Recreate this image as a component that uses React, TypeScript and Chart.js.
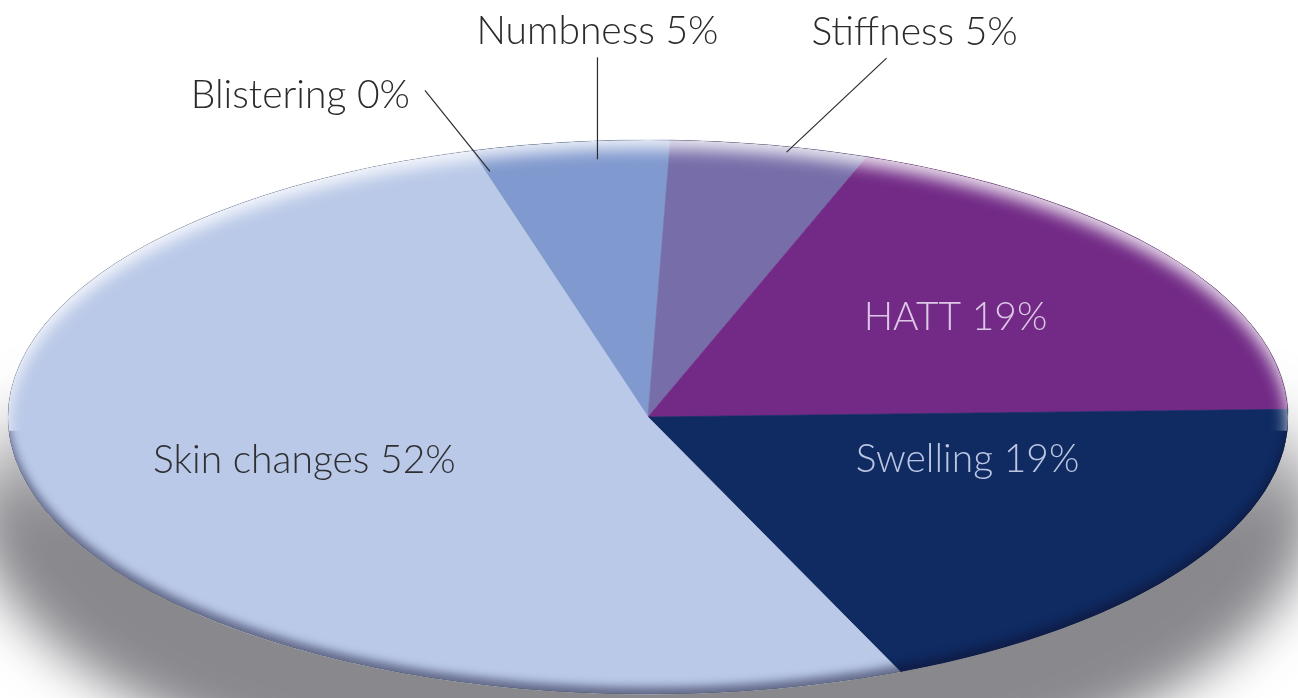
import React, { useEffect, useRef } from "react";
import { Chart, registerables } from "chart.js";

Chart.register(...registerables);

const categories = ["Blistering", "Numbness", "Stiffness", "HATT", "Swelling", "Skin changes"];
const values = [0, 5, 5, 19, 19, 52];
const sliceColors = ["#c9d4ee", "#8099ce", "#776ea9", "#722a86", "#0f2b62", "#bac9e8"];

const W = 1298;
const H = 698;
// ellipse geometry (visual perspective of the pie)
const ELL = { cx: 648, cy: 417, rx: 640, ry: 277 };
const SHADOW = { cx: 645, cy: 500, rx: 672, ry: 305, blur: 26, fadeTop: 380, fadeBottom: 520 };
const FONT = "300 39px Lato, 'Open Sans', sans-serif";
const TEXT_DARK = "#2b2b2e";

// label layout per category
const labelLayout: any[] = [
  { outside: true, frac: 0.93, ax: 6, ay: 2, lx: -65, ly: -81, tx: -15, ty: 5, align: "right" },
  { outside: true, frac: 0.93, ax: 22, ay: -2, lx: 0, ly: -102, tx: 0, ty: -26, align: "center" },
  { outside: true, frac: 0.93, ax: 25, ay: -12, lx: 100, ly: -94, tx: 28, ty: -26, align: "center" },
  { outside: false, frac: 0.55, dx: 22, dy: -10, color: "#dcc8e6" },
  { outside: false, frac: 0.5, dx: 50, dy: -32, color: "#bcc6e2" },
  { outside: false, frac: 0.57, dx: 0, dy: -10, color: "#2e2e33" },
];

function ellPoint(angle: number, frac: number) {
  return {
    x: ELL.cx + ELL.rx * frac * Math.cos(angle),
    y: ELL.cy + ELL.ry * frac * Math.sin(angle),
  };
}

function innerShadow(ctx: any, x: number, y: number, r: number, color: string, blur: number, oy: number, band: number[]) {
  ctx.save();
  ctx.beginPath();
  ctx.rect(x - r * 2, y + band[0] * r, r * 4, (band[1] - band[0]) * r);
  ctx.clip();
  ctx.beginPath();
  ctx.arc(x, y, r, 0, Math.PI * 2);
  ctx.clip();
  ctx.shadowColor = color;
  ctx.shadowBlur = blur;
  ctx.shadowOffsetX = 0;
  ctx.shadowOffsetY = oy;
  ctx.fillStyle = "#000";
  ctx.beginPath();
  ctx.rect(x - r * 4, y - r * 4, r * 8, r * 8);
  ctx.arc(x, y, r, 0, Math.PI * 2);
  ctx.fill("evenodd");
  ctx.restore();
}

const ellipsePlugin = {
  id: "ellipsePie",
  beforeDatasetsDraw(chart: any) {
    const ctx = chart.ctx;
    const arc = chart.getDatasetMeta(0).data[0];
    const { x, y, outerRadius } = arc.getProps(["x", "y", "outerRadius"], true);
    // soft drop shadow beneath the tilted disc
    ctx.save();
    ctx.filter = `blur(${SHADOW.blur}px)`;
    const g = ctx.createLinearGradient(0, SHADOW.fadeTop, 0, SHADOW.fadeBottom);
    g.addColorStop(0, "rgba(50,50,58,0)");
    g.addColorStop(1, "rgba(50,50,58,0.58)");
    ctx.fillStyle = g;
    ctx.beginPath();
    ctx.ellipse(SHADOW.cx, SHADOW.cy, SHADOW.rx, SHADOW.ry, 0, 0, Math.PI * 2);
    ctx.fill();
    ctx.restore();
    ctx.save();
    ctx.translate(ELL.cx, ELL.cy);
    ctx.scale(ELL.rx / outerRadius, ELL.ry / outerRadius);
    ctx.translate(-x, -y);
  },
  afterDatasetsDraw(chart: any) {
    const ctx = chart.ctx;
    const arc = chart.getDatasetMeta(0).data[0];
    const { x, y, outerRadius } = arc.getProps(["x", "y", "outerRadius"], true);
    // bevel: dark lower rim, light upper rim
    innerShadow(ctx, x, y, outerRadius, "rgba(15,15,50,0.5)", 9, -7, [0.05, 1.2]);
    innerShadow(ctx, x, y, outerRadius, "rgba(255,255,255,0.85)", 16, 9, [-1.2, 0.05]);
    ctx.restore();
  },
  afterDraw(chart: any) {
    const ctx = chart.ctx;
    const meta = chart.getDatasetMeta(0);
    ctx.save();
    ctx.font = FONT;
    ctx.textBaseline = "middle";
    meta.data.forEach((el: any, i: number) => {
      const { startAngle, endAngle } = el.getProps(["startAngle", "endAngle"], true);
      const L = labelLayout[i];
      const mid = (startAngle + endAngle) / 2;
      const text = `${categories[i]} ${values[i]}%`;
      const p = ellPoint(mid, L.frac);
      if (L.outside) {
        const sx = p.x + L.ax;
        const sy = p.y + L.ay;
        const ex = sx + L.lx;
        const ey = sy + L.ly;
        ctx.strokeStyle = TEXT_DARK;
        ctx.lineWidth = 1.2;
        ctx.beginPath();
        ctx.moveTo(sx, sy);
        ctx.lineTo(ex, ey);
        ctx.stroke();
        ctx.fillStyle = TEXT_DARK;
        ctx.textAlign = L.align;
        ctx.fillText(text, ex + L.tx, ey + L.ty);
      } else {
        ctx.fillStyle = L.color;
        ctx.textAlign = "center";
        ctx.fillText(text, p.x + L.dx, p.y + L.dy);
      }
    });
    ctx.restore();
  },
};

export default function App() {
  const ref = useRef<HTMLCanvasElement>(null);
  useEffect(() => {
    if (!ref.current) return;
    const chart = new Chart(ref.current, {
      type: "pie",
      data: {
        labels: categories,
        datasets: [
          {
            data: values,
            backgroundColor: sliceColors,
            borderColor: sliceColors,
            borderWidth: 0.5,
            clip: false,
          } as any,
        ],
      },
      options: {
        responsive: false,
        animation: false,
        rotation: -16,
        layout: { padding: 0 },
        plugins: { legend: { display: false }, tooltip: { enabled: false } },
      },
      plugins: [ellipsePlugin],
    });
    return () => chart.destroy();
  }, []);
  return (
    <div style={{ position: "fixed", left: 0, top: 0, width: W, height: H, background: "#fff" }}>
      <canvas ref={ref} width={W} height={H} style={{ width: W, height: H, display: "block" }} />
    </div>
  );
}
